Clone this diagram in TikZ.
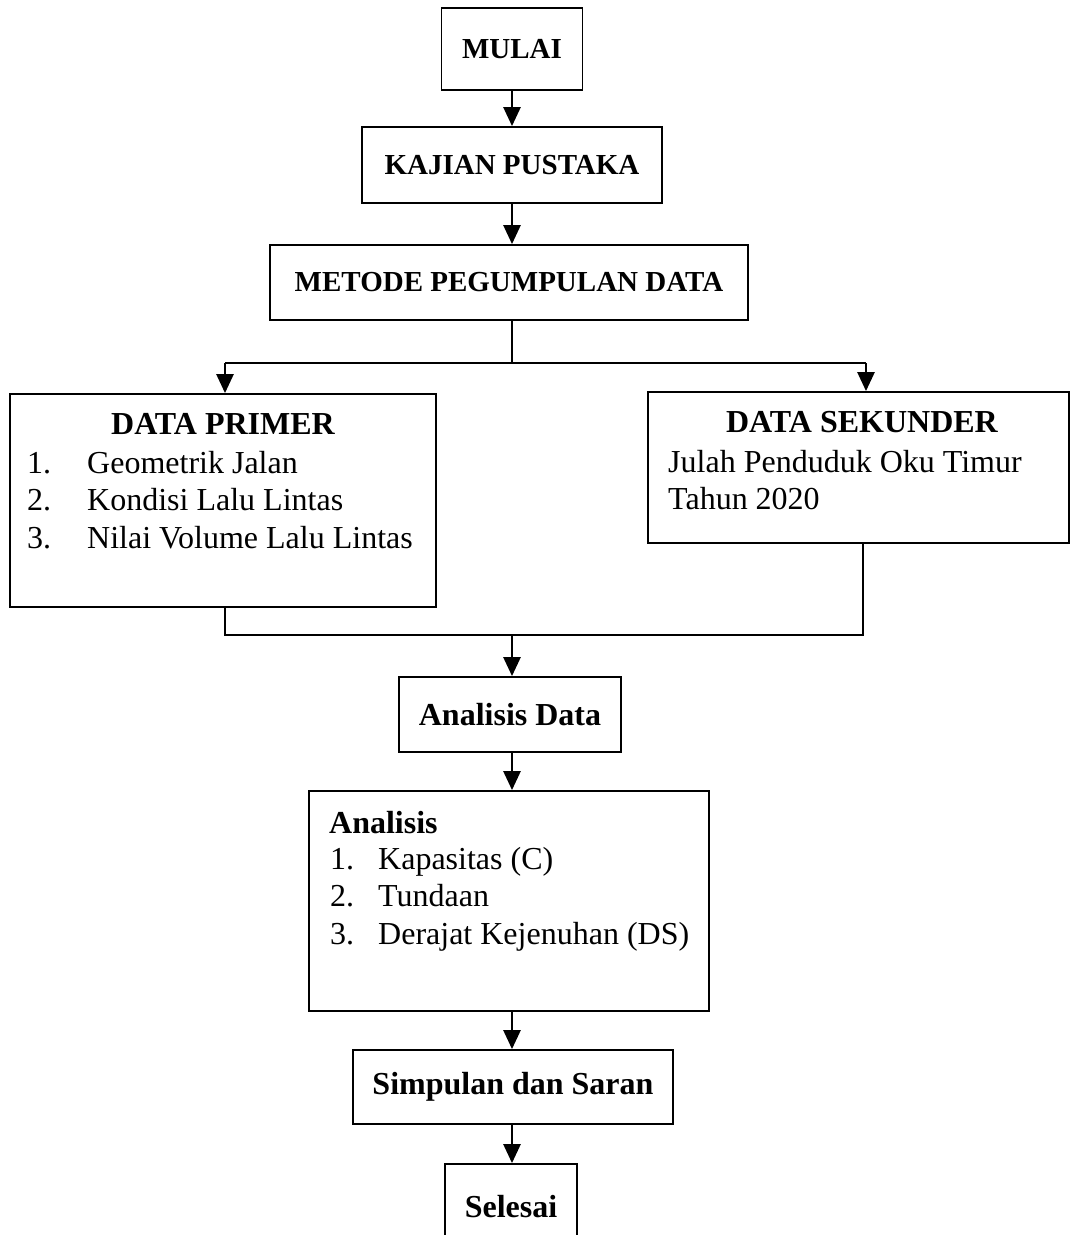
\documentclass[tikz,border=0pt]{standalone}
\usepackage{fontspec}
\setmainfont{Liberation Serif}
\usetikzlibrary{arrows.meta,positioning}

\newcommand{\bigtext}{\fontsize{32}{37.5}\selectfont}
\newcommand{\toptext}{\fontsize{29}{34}\selectfont}

\begin{document}
\begin{tikzpicture}[x=1pt, y=-1pt,
    box/.style={draw, line width=1.8pt, inner sep=0pt},
    arr/.style={line width=2.6pt, -{Triangle[width=17pt,length=19pt]}},
    link/.style={line width=1.8pt},
    head/.style={font=\bfseries\bigtext, inner sep=0pt},
    list/.style={font=\bigtext, align=left, inner sep=0pt}]
  \clip (0,0) rectangle (1070,1235);
  % top column
  \node[box, minimum width=141pt, minimum height=82pt, font=\bfseries\toptext] (mulai) at (512,49) {MULAI};
  \node[box, minimum width=300pt, minimum height=76pt, font=\bfseries\toptext] (kajian) at (512,165) {KAJIAN PUSTAKA};
  \node[box, minimum width=478pt, minimum height=75pt, font=\bfseries\toptext] (metode) at (509,282.5) {METODE PEGUMPULAN DATA};
  % the two data boxes
  \node[box, minimum width=426pt, minimum height=213pt] (primer) at (223,500.5) {};
  \node[head] (primtitle) at (223,424) {DATA PRIMER};
  \node[list, anchor=north west] (primlist) at (27,451)
    {\makebox[60pt][l]{1.}Geometrik Jalan\\
     \makebox[60pt][l]{2.}Kondisi Lalu Lintas\\
     \makebox[60pt][l]{3.}Nilai Volume Lalu Lintas};
  \node[box, minimum width=421pt, minimum height=151pt] (sekunder) at (858.5,467.5) {};
  \node[head] (sektitle) at (862,422) {DATA SEKUNDER};
  \node[list, anchor=north west] (sektext) at (668,450)
    {Julah Penduduk Oku Timur\\Tahun 2020};
  % bottom column
  \node[box, minimum width=222pt, minimum height=75pt, font=\bfseries\bigtext] (andata) at (510,714.5) {Analisis Data};
  \node[box, minimum width=400pt, minimum height=220pt] (analisis) at (509,901) {};
  \node[head, anchor=base west] (anatitle) at (329,833) {Analisis};
  \node[list, anchor=north west] (analist) at (330,847)
    {\makebox[48pt][l]{1.}Kapasitas (C)\\
     \makebox[48pt][l]{2.}Tundaan\\
     \makebox[48pt][l]{3.}Derajat Kejenuhan (DS)};
  \node[box, minimum width=320pt, minimum height=74pt, font=\bfseries\bigtext] (simpulan) at (513,1087) {Simpulan dan Saran};
  \node[box, minimum width=132pt, minimum height=86pt, font=\bfseries\bigtext] (selesai) at (511,1207) {Selesai};
  % connectors
  \coordinate (split) at (512,363);
  \coordinate (lefttop) at (225,363);
  \coordinate (righttop) at (866,363);
  \coordinate (join) at (512,635);
  \coordinate (leftbot) at (225,635);
  \coordinate (rightbot) at (863,635);
  \draw[arr] (mulai.south -| split) -- (kajian.north -| split);
  \draw[arr] (kajian.south -| split) -- (metode.north -| split);
  \draw[line width=1.3pt] (metode.south -| split) -- (split);
  \draw[link] (lefttop) -- (righttop);
  \draw[arr] (lefttop) -- (lefttop |- primer.north);
  \draw[arr] (righttop) -- (righttop |- sekunder.north);
  \draw[link] (primer.south -| leftbot) -- (leftbot) -- (rightbot) -- (sekunder.south -| rightbot);
  \draw[arr] (join) -- (join |- andata.north);
  \draw[arr] (andata.south -| split) -- (analisis.north -| split);
  \draw[arr] (analisis.south -| split) -- (simpulan.north -| split);
  \draw[arr] (simpulan.south -| split) -- (selesai.north -| split);
\end{tikzpicture}
\end{document}
